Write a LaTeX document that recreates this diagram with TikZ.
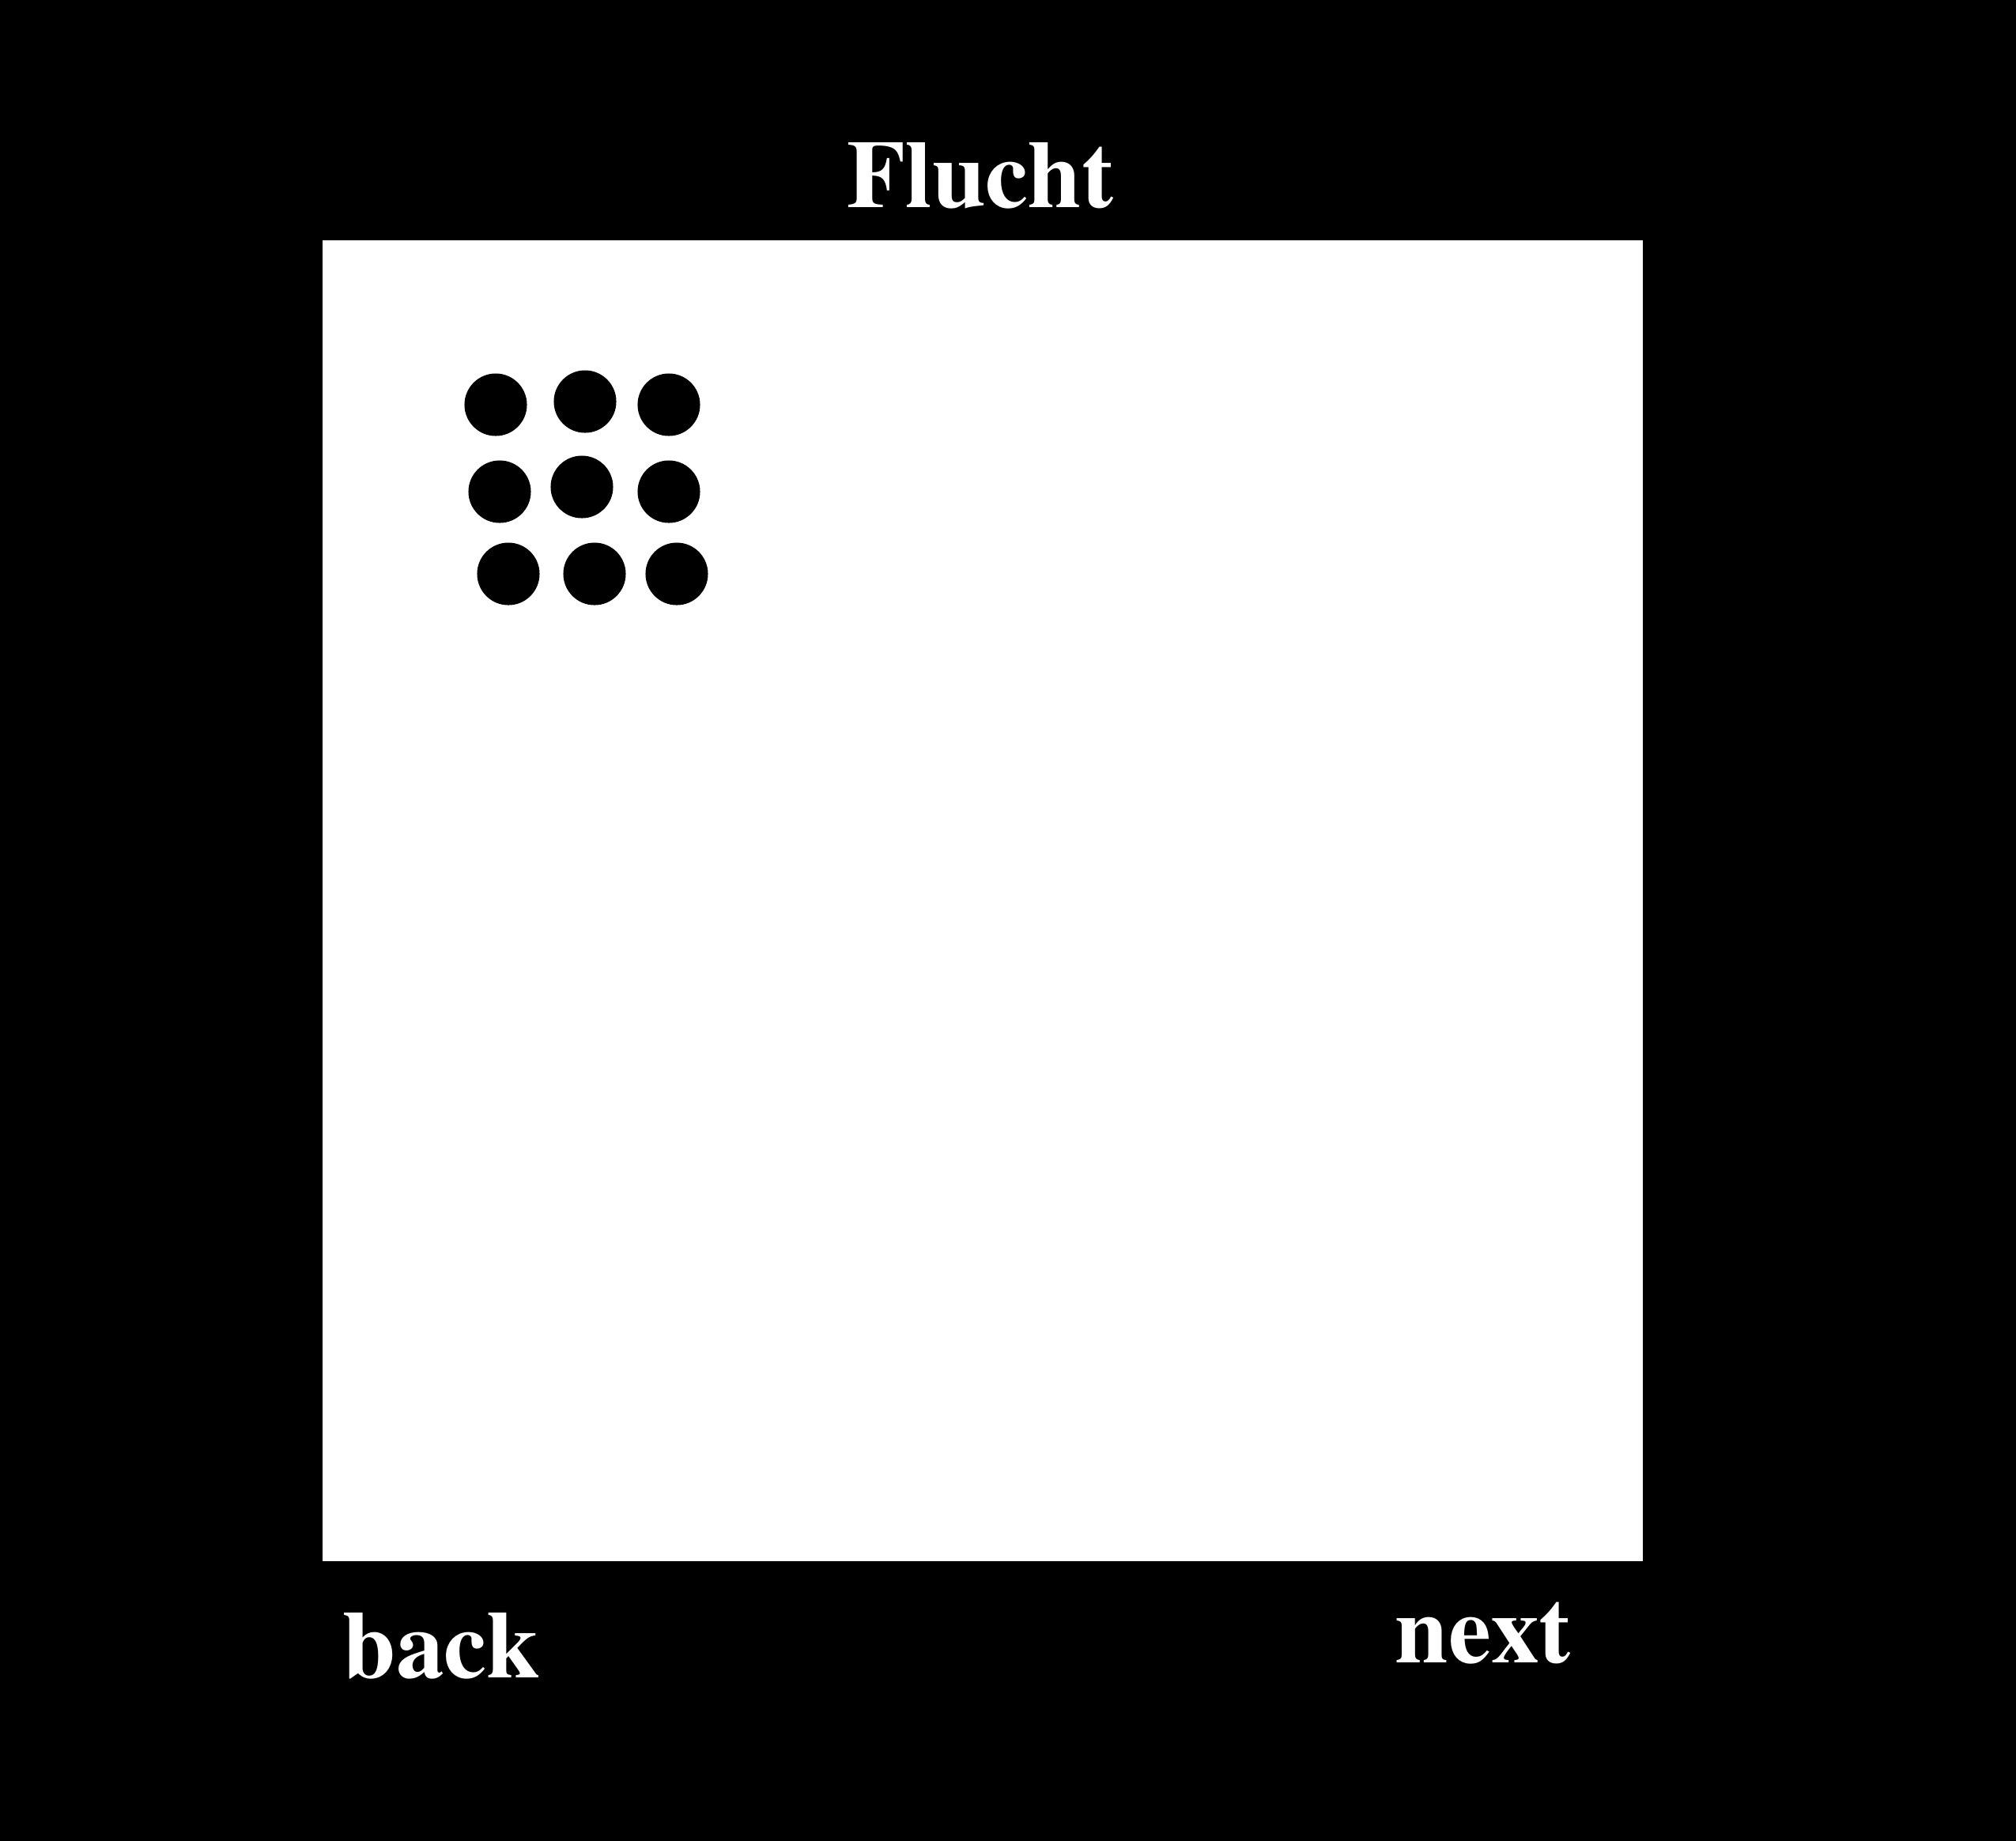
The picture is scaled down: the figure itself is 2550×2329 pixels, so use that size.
\documentclass[tikz,border=0pt]{standalone}
\usepackage[T1]{fontenc}
\renewcommand{\rmdefault}{ptm}
\usetikzlibrary{positioning}

\begin{document}
\begin{tikzpicture}[x=0.01cm,y=-0.01cm,
  dot node/.style={circle,fill=black,inner sep=0pt,minimum size=0.79cm},
  label node/.style={text=white,inner sep=0pt,font=\fontsize{34.5}{41}\selectfont\bfseries}]

  \fill[black] (0,0) rectangle (2550,2329);

  \node[fill=white,inner sep=0pt,minimum size=16.7cm] (panel) at (1243,1139) {};

  \node[dot node] (d1) at (627,512) {};
  \node[dot node] (d2) at (740,508) {};
  \node[dot node] (d3) at (846,512) {};
  \node[dot node] (d4) at (632,622) {};
  \node[dot node] (d5) at (736,616) {};
  \node[dot node] (d6) at (846,622) {};
  \node[dot node] (d7) at (643,726) {};
  \node[dot node] (d8) at (752,726) {};
  \node[dot node] (d9) at (856,726) {};

  \node[label node,anchor=base] (title) at (1240,262) {Flucht};
  \node[label node,anchor=base west] (back) at (433,2122) {back};
  \node[label node,anchor=base west] (next) at (1764,2103) {next};

\end{tikzpicture}
\end{document}
